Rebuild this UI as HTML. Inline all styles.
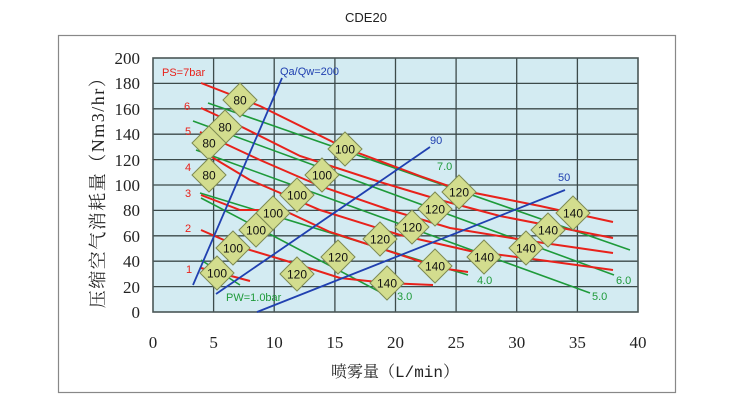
<!DOCTYPE html>
<html><head><meta charset="utf-8"><style>
html,body{margin:0;padding:0;background:#fff;}
svg{display:block;}
</style></head><body>
<svg width="750" height="415" viewBox="0 0 750 415" xmlns="http://www.w3.org/2000/svg">
<rect x="0" y="0" width="750" height="415" fill="#fff"/>
<text x="366" y="22" font-family="Liberation Sans, sans-serif" font-size="13" text-anchor="middle" fill="#222">CDE20</text>
<rect x="58.5" y="35.5" width="617" height="357" fill="none" stroke="#888" stroke-width="1.2"/>
<rect x="153" y="58" width="485" height="254" fill="#d3ebf2"/>
<g stroke="#3c4a4a" stroke-width="1.3">
<line x1="213.6" y1="58" x2="213.6" y2="312"/><line x1="274.2" y1="58" x2="274.2" y2="312"/>
<line x1="334.9" y1="58" x2="334.9" y2="312"/><line x1="395.5" y1="58" x2="395.5" y2="312"/>
<line x1="456.1" y1="58" x2="456.1" y2="312"/><line x1="516.7" y1="58" x2="516.7" y2="312"/>
<line x1="577.4" y1="58" x2="577.4" y2="312"/>
<line x1="153" y1="83.4" x2="638" y2="83.4"/><line x1="153" y1="108.8" x2="638" y2="108.8"/>
<line x1="153" y1="134.2" x2="638" y2="134.2"/><line x1="153" y1="159.6" x2="638" y2="159.6"/>
<line x1="153" y1="185" x2="638" y2="185"/><line x1="153" y1="210.4" x2="638" y2="210.4"/>
<line x1="153" y1="235.8" x2="638" y2="235.8"/><line x1="153" y1="261.2" x2="638" y2="261.2"/>
<line x1="153" y1="286.6" x2="638" y2="286.6"/>
</g>
<rect x="153" y="58" width="485" height="254" fill="none" stroke="#4a5656" stroke-width="1.6"/>
<g stroke="#1e9a3a" stroke-width="1.6" fill="none">
<line x1="208" y1="103" x2="630" y2="250"/>
<line x1="193" y1="121" x2="614" y2="275"/>
<line x1="196" y1="150" x2="590" y2="293"/>
<line x1="200" y1="193" x2="468" y2="275"/>
<line x1="201" y1="198" x2="382" y2="293"/>
<line x1="201" y1="260" x2="240" y2="285"/>
</g>
<g stroke="#e8221b" stroke-width="2" fill="none">
<polyline points="201,83 260,106 345,148 420,176 460,190 540,206 613,222"/>
<polyline points="201,108 240,126 300,156 380,182 440,200 500,216 613,238"/>
<polyline points="200,132 260,160 320,186 390,210 450,228 530,241 613,253"/>
<polyline points="200,150 250,180 320,210 400,235 470,251 540,260 613,270"/>
<polyline points="201,195 240,210 283,210 330,232 367,244 410,258 440,268 468,272"/>
<polyline points="201,230 240,247 290,262 340,278 387,283 433,285"/>
<polyline points="201,268 250,281"/>
</g>
<g stroke="#2040b0" stroke-width="1.8">
<line x1="193" y1="285" x2="282" y2="78"/>
<line x1="216" y1="294" x2="430" y2="147"/>
<line x1="257" y1="312" x2="565" y2="190"/>
</g>
<g font-family="Liberation Sans, sans-serif" font-size="11">
<text x="162" y="76" fill="#e8221b">PS=7bar</text>
<text x="184" y="110" fill="#e8221b">6</text>
<text x="185" y="135" fill="#e8221b">5</text>
<text x="185" y="171" fill="#e8221b">4</text>
<text x="185" y="197" fill="#e8221b">3</text>
<text x="185" y="232" fill="#e8221b">2</text>
<text x="186" y="273" fill="#e8221b">1</text>
<text x="280" y="75" fill="#2040b0">Qa/Qw=200</text>
<text x="430" y="144" fill="#2040b0">90</text>
<text x="558" y="181" fill="#2040b0">50</text>
<text x="437" y="170" fill="#1e9a3a">7.0</text>
<text x="616" y="284" fill="#1e9a3a">6.0</text>
<text x="592" y="300" fill="#1e9a3a">5.0</text>
<text x="477" y="284" fill="#1e9a3a">4.0</text>
<text x="397" y="300" fill="#1e9a3a">3.0</text>
<text x="226" y="301" fill="#1e9a3a">PW=1.0bar</text>
</g>
<defs><path id="d" d="M0,-17 L17,0 L0,17 L-17,0 Z" fill="#d3dd8e" stroke="#7d8a52" stroke-width="1"/></defs>
<g font-family="Liberation Sans, sans-serif" font-size="12" text-anchor="middle" fill="#111">
<use href="#d" x="240" y="100"/><text x="240" y="104.5">80</text>
<use href="#d" x="225" y="127"/><text x="225" y="131.5">80</text>
<use href="#d" x="209" y="143"/><text x="209" y="147.5">80</text>
<use href="#d" x="209" y="175"/><text x="209" y="179.5">80</text>
<use href="#d" x="345" y="149"/><text x="345" y="153.5">100</text>
<use href="#d" x="322" y="175"/><text x="322" y="179.5">100</text>
<use href="#d" x="297" y="195"/><text x="297" y="199.5">100</text>
<use href="#d" x="273" y="213"/><text x="273" y="217.5">100</text>
<use href="#d" x="256" y="230"/><text x="256" y="234.5">100</text>
<use href="#d" x="233" y="248"/><text x="233" y="252.5">100</text>
<use href="#d" x="217" y="273"/><text x="217" y="277.5">100</text>
<use href="#d" x="459" y="192"/><text x="459" y="196.5">120</text>
<use href="#d" x="435" y="209"/><text x="435" y="213.5">120</text>
<use href="#d" x="412" y="227"/><text x="412" y="231.5">120</text>
<use href="#d" x="380" y="239"/><text x="380" y="243.5">120</text>
<use href="#d" x="338" y="257"/><text x="338" y="261.5">120</text>
<use href="#d" x="297" y="274"/><text x="297" y="278.5">120</text>
<use href="#d" x="573" y="213"/><text x="573" y="217.5">140</text>
<use href="#d" x="548" y="230"/><text x="548" y="234.5">140</text>
<use href="#d" x="526" y="248"/><text x="526" y="252.5">140</text>
<use href="#d" x="484" y="257"/><text x="484" y="261.5">140</text>
<use href="#d" x="435" y="266"/><text x="435" y="270.5">140</text>
<use href="#d" x="387" y="283"/><text x="387" y="287.5">140</text>
</g>
<g font-family="Liberation Serif, serif" font-size="17" fill="#222" text-anchor="end">
<text x="140" y="64">200</text><text x="140" y="89">180</text><text x="140" y="115">160</text>
<text x="140" y="140">140</text><text x="140" y="166">120</text><text x="140" y="191">100</text>
<text x="140" y="216">80</text><text x="140" y="242">60</text><text x="140" y="267">40</text>
<text x="140" y="293">20</text><text x="140" y="318">0</text>
</g>
<g font-family="Liberation Serif, serif" font-size="17" fill="#222" text-anchor="middle">
<text x="153" y="348">0</text><text x="213.6" y="348">5</text><text x="274.2" y="348">10</text>
<text x="334.9" y="348">15</text><text x="395.5" y="348">20</text><text x="456.1" y="348">25</text>
<text x="516.7" y="348">30</text><text x="577.4" y="348">35</text><text x="638" y="348">40</text>
</g>
<text x="395" y="377" font-family="Liberation Mono, Noto Serif CJK SC, serif" font-size="16" fill="#222" text-anchor="middle">喷雾量（L/min）</text>
<text transform="translate(104,188) rotate(-90)" font-family="Liberation Serif, Noto Serif CJK SC, serif" font-size="18" letter-spacing="1.5" fill="#222" text-anchor="middle">压缩空气消耗量（Nm3/hr）</text>
</svg>
</body></html>
